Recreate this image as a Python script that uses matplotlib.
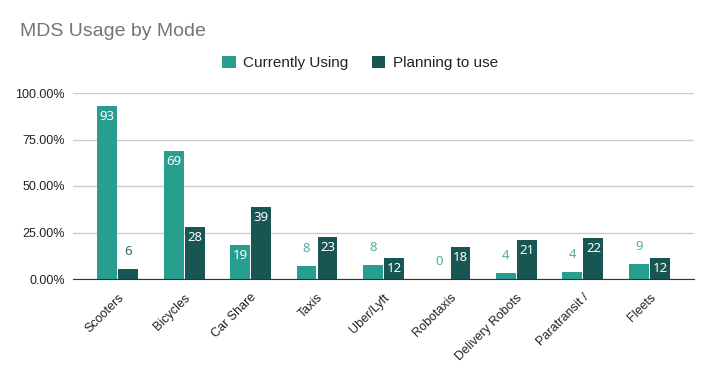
import numpy as np
import matplotlib.pyplot as plt
from matplotlib.ticker import PercentFormatter

# data
modes = ['Scooters', 'Bicycles', 'Car Share', 'Taxis', 'Uber/Lyft', 'Robotaxis',
         'Delivery Robots', 'Paratransit /', 'Fleets']
current_pct = [93.2, 69.0, 18.5, 7.0, 7.5, 0.0, 3.3, 3.8, 8.2]
planning_pct = [5.5, 28.1, 38.9, 22.6, 11.4, 17.2, 21.0, 22.0, 11.4]
current_lbl = [93, 69, 19, 8, 8, 0, 4, 4, 9]
planning_lbl = [6, 28, 39, 23, 12, 18, 21, 22, 12]

c_cur = '#279e8e'
c_plan = '#175653'

plt.rcParams['font.family'] = ['Liberation Sans', 'DejaVu Sans']

fig = plt.figure(figsize=(7.13, 3.71), dpi=100)
ax = fig.add_axes([73/713, 1 - 279/371, 621/713, 186/371])

x = np.arange(len(modes))
w = 0.30
off = 0.158
b1 = ax.bar(x - off, current_pct, w, color=c_cur, label='Currently Using', zorder=3)
b2 = ax.bar(x + off, planning_pct, w, color=c_plan, label='Planning to use', zorder=3)

# data labels: inside if the bar is tall enough, else above
for bars, lbls, above_col in [(b1, current_lbl, '#4fb0a2'),
                              (b2, planning_lbl, '#2f6b66')]:
    for b, l in zip(bars, lbls):
        h = b.get_height()
        cx = b.get_x() + b.get_width() / 2
        if h >= 9:
            ax.annotate(str(l), (cx, h), xytext=(0, -3), textcoords='offset points',
                        ha='center', va='top', color='white', fontsize=9.5,
                        family='Noto Sans', zorder=4)
        else:
            ax.annotate(str(l), (cx, h), xytext=(0, 8), textcoords='offset points',
                        ha='center', va='bottom', color=above_col, fontsize=9.5,
                        family='Noto Sans', zorder=4)

ax.set_ylim(0, 100)
ax.set_yticks([0, 25, 50, 75, 100])
ax.yaxis.set_major_formatter(PercentFormatter(decimals=2))
ax.set_xlim(-0.67, len(modes) - 0.33)
ax.set_xticks(x)
ax.set_xticklabels(modes, rotation=45, ha='right', rotation_mode='anchor', fontsize=9)
ax.tick_params(length=0, labelsize=9, colors='#222222')
ax.tick_params(axis='x', pad=9)
ax.tick_params(axis='y', pad=6)
ax.grid(axis='y', color='#cccccc', linewidth=1, zorder=0)
for s in ['top', 'right', 'left']:
    ax.spines[s].set_visible(False)
ax.spines['bottom'].set_color('#333333')
ax.spines['bottom'].set_zorder(5)

fig.text(20/713, 1 - 32/371, 'MDS Usage by Mode', fontsize=14, color='#757575',
         va='center', ha='left')
fig.legend(loc='center', bbox_to_anchor=(360/713, 1 - 63/371), ncol=2, frameon=False,
           fontsize=11, handlelength=0.9, handleheight=0.9, handletextpad=0.5,
           columnspacing=1.5, labelcolor='#222222')

plt.savefig('out.png', dpi=100)
